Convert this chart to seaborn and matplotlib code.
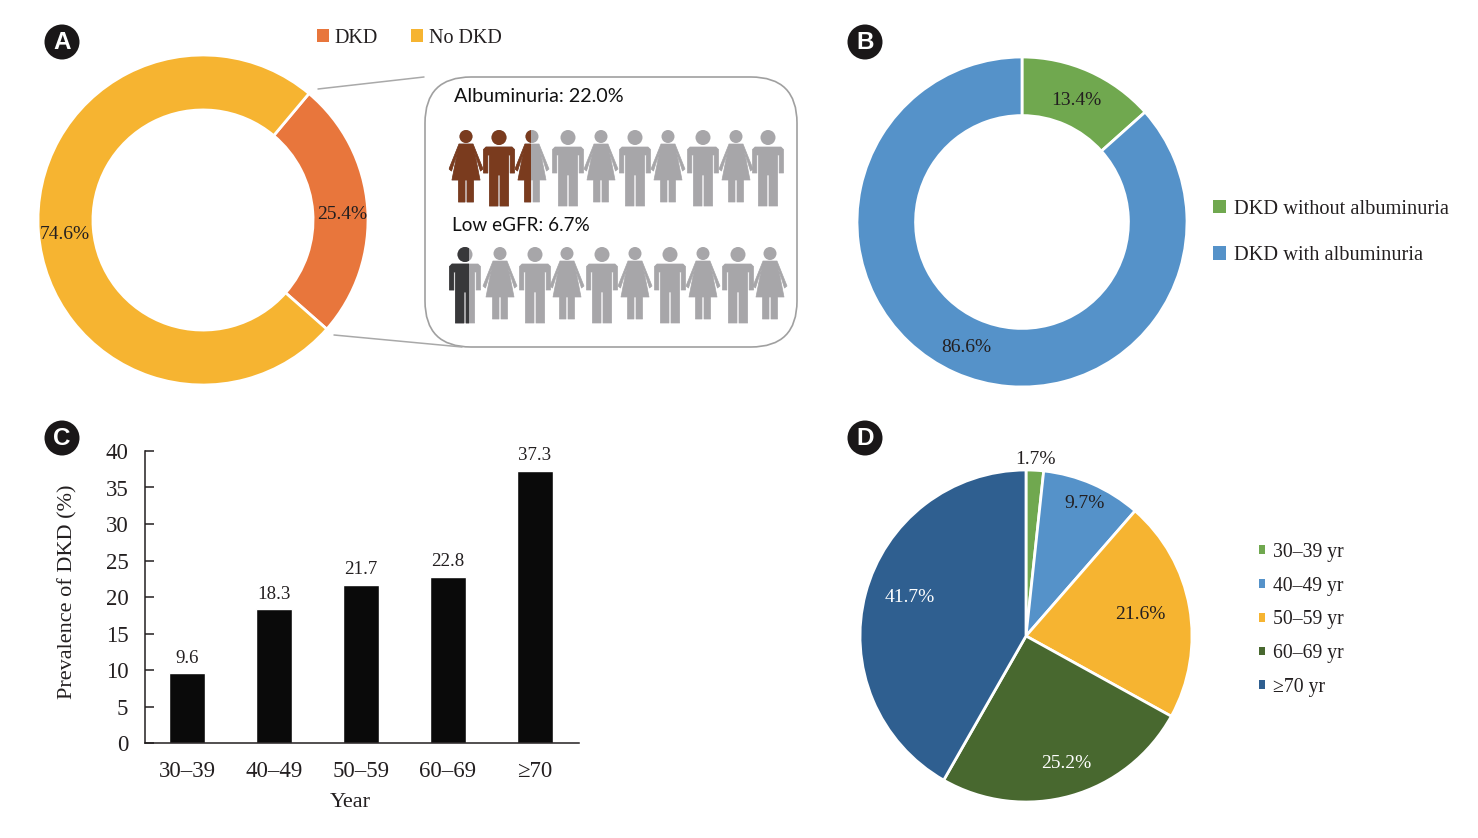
import math

import matplotlib
matplotlib.use("Agg")
import matplotlib.pyplot as plt
import pandas as pd
import seaborn as sns
from matplotlib.patches import Circle, FancyBboxPatch, Patch, Polygon, Rectangle

# ==================== data ====================
A_LABELS = ["DKD", "No DKD"]
A_VALUES = [25.4, 74.6]
B_LABELS = ["DKD without albuminuria", "DKD with albuminuria"]
B_VALUES = [13.4, 86.6]
AGE_BARS = ["30–39", "40–49", "50–59", "60–69", "≥70"]
PREVALENCE = [9.6, 18.3, 21.7, 22.8, 37.3]
D_LABELS = ["30–39 yr", "40–49 yr", "50–59 yr", "60–69 yr", "≥70 yr"]
D_VALUES = [1.7, 9.7, 21.6, 25.2, 41.7]
YTICKS = [0, 5, 10, 15, 20, 25, 30, 35, 40]

# share of each pictogram that is coloured
ALB_FILL = [1, 1, 0.46, 0, 0, 0, 0, 0, 0, 0]
EGFR_FILL = [0.62, 0, 0, 0, 0, 0, 0, 0, 0, 0]

# ==================== style ====================
ORANGE, YELLOW = "#E8763C", "#F6B431"
GREEN, BLUE = "#70A84F", "#5592C9"
DKGREEN, NAVY = "#48682F", "#2F5F90"
BROWN, GREY, DKGREY = "#7A3B1E", "#A7A6A9", "#38383A"
INK = "#231F20"
SERIF = "Liberation Serif"
SANS = "Lato"

W, H = 1478, 838
sns.set_style("ticks")
plt.rcParams["font.family"] = [SERIF, "DejaVu Serif"]
fig = plt.figure(figsize=(W / 100, H / 100), dpi=100)


def px_axes(left, top, right, bottom):
    return fig.add_axes([left / W, 1 - bottom / H, (right - left) / W, (bottom - top) / H])


# full-figure pixel canvas for the callout and badges
bg = fig.add_axes([0, 0, 1, 1], zorder=0)
bg.set_xlim(0, W)
bg.set_ylim(H, 0)
bg.axis("off")


def pie_panel(cx, cy, r, values, colors, start, ccw=False, inner=None, dist=None, nudge=None, txtcol=None, fs=14):
    ax = px_axes(cx - r, cy - r, cx + r, cy + r)
    ax.set_zorder(1)
    wedgeprops = {"edgecolor": "white", "linewidth": 2}
    if inner:
        wedgeprops["width"] = 1 - inner
    wedges, _ = ax.pie(values, colors=colors, startangle=start, counterclock=ccw,
                       radius=1, wedgeprops=wedgeprops)
    ax.set_xlim(-1, 1)
    ax.set_ylim(-1, 1)
    for i, (w, v) in enumerate(zip(wedges, values)):
        ang = math.radians((w.theta1 + w.theta2) / 2)
        # nudge is in picture pixels, y downwards
        ax.text(dist[i] * math.cos(ang) + nudge[i][0] / r, dist[i] * math.sin(ang) - nudge[i][1] / r,
                f"{v}%", ha="center", va="center", fontsize=fs,
                color=txtcol[i] if txtcol else INK, clip_on=False, zorder=5)
    return ax


def px_legend(ax, labels, colors, x, y, fs, spacing, size, pad, ncol=1, colspace=1.0):
    handles = [Patch(facecolor=c, edgecolor="none") for c in colors]
    leg = ax.legend(handles, labels, loc="upper left", bbox_to_anchor=(x / W, 1 - y / H),
                    bbox_transform=fig.transFigure, frameon=False, fontsize=fs, ncol=ncol,
                    handlelength=size, handleheight=size, handletextpad=pad,
                    labelspacing=spacing, columnspacing=colspace, borderpad=0, borderaxespad=0)
    for t in leg.get_texts():
        t.set_color(INK)
    return leg


# ==================== A ====================
ax_a = pie_panel(203, 220, 165, A_VALUES, [ORANGE, YELLOW], -41.4, ccw=True, inner=0.667,
                 dist=[0.84, 0.84], nudge=[(1, 5), (0, 4)])
px_legend(ax_a, A_LABELS, [ORANGE, YELLOW], 317, 29, 14.5, 0.5, 0.62, 0.27, ncol=2, colspace=1.62)

bg.plot([318, 424], [89, 77], color="#A9A9A9", lw=1.1)
bg.plot([334, 462], [335, 347], color="#A9A9A9", lw=1.1)
bg.add_patch(FancyBboxPatch((425, 77), 372, 270, boxstyle="round,pad=0,rounding_size=46",
                            facecolor="white", edgecolor="#A0A0A0", lw=1.2))
bg.text(454, 96, "Albuminuria: 22.0%", family=SANS, fontsize=14.2, color="#111111", va="center")
bg.text(452, 225, "Low eGFR: 6.7%", family=SANS, fontsize=13.6, color="#111111", va="center")

MAN = [(-13, 17), (13, 17), (15.5, 19.5), (15.5, 43), (11.2, 43), (11.2, 25), (9.6, 25), (9.6, 76),
       (1, 76), (1, 45), (-1, 45), (-1, 76), (-9.6, 76), (-9.6, 25), (-11.2, 25), (-11.2, 43),
       (-15.5, 43), (-15.5, 19.5)]
WOMAN = [(-7, 14), (7, 14), (17, 39), (14.5, 41), (8.5, 22), (14, 50), (7.5, 50), (7.5, 72), (1, 72),
         (1, 50), (-1, 50), (-1, 72), (-7.5, 72), (-7.5, 50), (-14, 50), (-8.5, 22), (-14.5, 41),
         (-17, 39)]


def person(cx, top, female, frac, color):
    outline = WOMAN if female else MAN
    head_y, head_r = (6.5, 6.5) if female else (7.5, 7.5)
    half = 17.5 if female else 16
    for col, clip in ((GREY, None), (color, frac)):
        if clip == 0:
            continue
        parts = [Polygon([(cx + a, top + b) for a, b in outline], facecolor=col, edgecolor=col,
                         lw=0.5, joinstyle="round"),
                 Circle((cx, top + head_y), head_r, facecolor=col, edgecolor="none")]
        for p in parts:
            bg.add_patch(p)
            if clip is not None:
                p.set_clip_path(Rectangle((cx - half, top - 2), 2 * half * clip, 84, transform=bg.transData))


ROW1_X = [466, 499, 532, 568, 601, 635, 668, 703, 736, 768]
ROW2_X = [465, 500, 535, 567, 602, 635, 670, 703, 738, 770]
for i, (x, f) in enumerate(zip(ROW1_X, ALB_FILL)):
    person(x, 130, i % 2 == 0, f, BROWN)
for i, (x, f) in enumerate(zip(ROW2_X, EGFR_FILL)):
    person(x, 247, i % 2 == 1, f, DKGREY)

# ==================== B ====================
ax_b = pie_panel(1022, 222, 165, B_VALUES, [GREEN, BLUE], 90, inner=0.645, dist=[0.82, 0.82],
                 nudge=[(-1, 2), (0, 2)])
px_legend(ax_b, B_LABELS, [GREEN, BLUE], 1213, 200, 14.7, 1.33, 0.62, 0.4)

# ==================== C ====================
ax_c = px_axes(145, 451, 579, 743)
ax_c.set_zorder(1)
df_c = pd.DataFrame({"age": AGE_BARS, "prev": PREVALENCE})
sns.barplot(data=df_c, x="age", y="prev", color="#0A0A0A", width=0.42, saturation=1, ax=ax_c)
ax_c.bar_label(ax_c.containers[0], labels=[f"{v}" for v in PREVALENCE], padding=4.5, fontsize=13.6, color=INK)
ax_c.set_xlim(-0.483, 4.506)
ax_c.set_ylim(0, 40)
ax_c.set_yticks(YTICKS)
ax_c.tick_params(axis="y", direction="in", length=6.5, width=1.1, color=INK, labelsize=16.5,
                 labelcolor=INK, pad=12)
ax_c.tick_params(axis="x", length=0, labelsize=16.5, labelcolor=INK, pad=13)
for side in ("top", "right"):
    ax_c.spines[side].set_visible(False)
for side in ("left", "bottom"):
    ax_c.spines[side].set_linewidth(1.1)
    ax_c.spines[side].set_color(INK)
ax_c.set_xlabel("Year", fontsize=16, color=INK, va="center")
ax_c.set_ylabel("Prevalence of DKD (%)", fontsize=16, color=INK, va="center")
ax_c.xaxis.set_label_coords(0.472, -0.205)
ax_c.yaxis.set_label_coords(-0.178, 0.517)

# ==================== D ====================
D_COLORS = [GREEN, BLUE, YELLOW, DKGREEN, NAVY]
ax_d = pie_panel(1026, 636, 166, D_VALUES, D_COLORS, 90, dist=[1.08, 0.88, 0.70, 0.79, 0.75],
                 nudge=[(0, 3), (0, 1), (0, -1), (5, 1), (4, -7)],
                 txtcol=[INK, INK, INK, "white", "white"])
px_legend(ax_d, D_LABELS, D_COLORS, 1259, 543, 14.2, 0.745, 0.32, 0.38)

# ==================== panel badges ====================
for letter, x, y in [("A", 62, 42), ("B", 865, 42), ("C", 62, 438), ("D", 865, 438)]:
    bg.add_patch(Circle((x, y), 17.5, facecolor="#1A1718", edgecolor="none"))
    bg.text(x, y + 0.5, letter, family="Liberation Sans", weight="bold", fontsize=17.5, color="white",
            ha="center", va="center")

fig.savefig("out.png", dpi=100)
